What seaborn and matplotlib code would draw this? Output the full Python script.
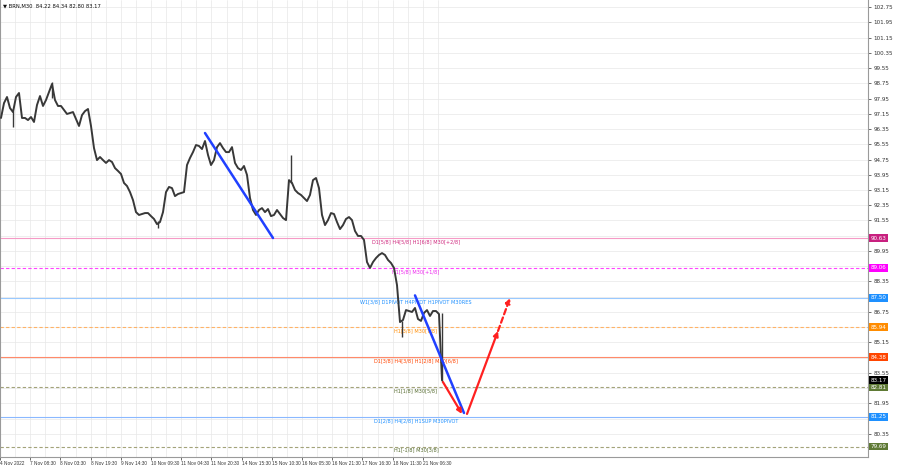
import numpy as np
import matplotlib
matplotlib.use("Agg")
import matplotlib.pyplot as plt
import seaborn as sns

sns.set_theme(style="white")
plt.rcParams["font.family"] = ["DejaVu Sans"]

# ---------------------------------------------------------------------------
# Data (BRN, M30) - one close every 3 bars
# ---------------------------------------------------------------------------
close = [
    96.93, 97.71, 98.03, 97.45, 97.24, 98.03, 98.24, 96.93,
    96.93, 96.82, 96.98, 96.72, 97.61, 98.08, 97.56, 97.87, 98.29,
    98.71, 97.87, 97.56, 97.56, 97.35, 97.14, 97.19, 97.24, 96.87, 96.51, 97.08, 97.29, 97.40, 96.51,
    95.35, 94.72, 94.88, 94.72, 94.57, 94.72, 94.62, 94.30, 94.15, 93.99, 93.52, 93.36, 93.04, 92.62,
    91.99, 91.84, 91.89, 91.94, 91.94, 91.78, 91.63, 91.36, 91.47, 91.99, 93.04, 93.31, 93.25, 92.83,
    92.94, 92.99, 93.04, 94.46, 94.83, 95.14, 95.51, 95.46, 95.30, 95.72, 94.99, 94.46, 94.72, 95.40,
    95.61, 95.35, 95.14, 95.14, 95.40, 94.57, 94.30, 94.20, 94.41, 93.94, 92.73, 92.10, 91.84, 92.10,
    92.20, 91.99, 92.15, 91.78, 91.84, 92.10, 91.89, 91.68, 91.57, 93.67, 93.52, 93.15, 92.99, 92.89,
    92.73, 92.57, 92.89, 93.67, 93.78, 93.25, 91.84, 91.31, 91.57, 91.94, 91.89, 91.47, 91.10, 91.31,
    91.63, 91.73, 91.57, 91.00, 90.74, 90.74, 90.53, 89.37, 89.06, 89.37, 89.58, 89.74, 89.84, 89.74,
    89.48, 89.32, 89.06, 88.16, 86.22, 86.33, 86.85, 86.80, 86.75, 86.96, 86.38, 86.28, 86.70, 86.85,
    86.54, 86.80, 86.80, 86.64, 83.17,
]
bar_step = 3

# notable wicks (bar index, high, low)
wick_bar = [12, 51, 157, 290, 401, 441]
wick_high = [97.30, 98.81, 91.50, 94.99, 86.30, 86.70]
wick_low = [96.45, 98.00, 91.15, 93.50, 85.43, 83.07]

level_price = [90.63, 89.06, 87.50, 85.94, 84.38, 82.81, 81.25, 79.69]
level_text = [
    "D1[5/8] H4[5/8] H1[6/8] M30[+2/8]",
    "H1[5/8] M30[+1/8]",
    "W1[3/8] D1PIVOT H4PIVOT H1PIVOT M30RES",
    "H1[3/8] M30[7/8]",
    "D1[3/8] H4[3/8] H1[2/8] M30[6/8]",
    "H1[1/8] M30[5/8]",
    "D1[2/8] H4[2/8] H1SUP M30PIVOT",
    "H1[-1/8] M30[3/8]",
]
last_price = 83.17
header = "\u25bc BRN,M30  84.22 84.34 82.80 83.17"

x_labels = ["4 Nov 2022", "7 Nov 08:30", "8 Nov 03:30", "8 Nov 19:30", "9 Nov 14:30",
            "10 Nov 09:30", "11 Nov 04:30", "11 Nov 20:30", "14 Nov 15:30", "15 Nov 10:30",
            "16 Nov 05:30", "16 Nov 21:30", "17 Nov 16:30", "18 Nov 11:30", "21 Nov 06:30"]

# analyst drawings: (bar, price) pairs
blue_lines = [((204, 96.14), (272, 90.63)), ((414, 87.62), (463, 81.45))]
red_arrows = [((442, 83.07), (461, 81.40)), ((466, 81.40), (497, 85.75))]
red_dashed = ((497, 85.75), (509, 87.48))

# ---------------------------------------------------------------------------
# styles
# ---------------------------------------------------------------------------
line_col = ["#f59ac6", "#ff44ff", "#99c9ff", "#ffb366", "#ff8a6a", "#a3a37a", "#8ab8ff", "#a3a37a"]
line_ls = ["-", (0, (3, 2)), "-", (0, (3, 2)), "-", (0, (3, 2)), "-", (0, (3, 2))]
text_col = ["#d0287f", "#ee22ee", "#1e90ff", "#ff8c00", "#ff4500", "#556b2f", "#1e90ff", "#556b2f"]
box_col = ["#c8207f", "#ff00ff", "#1e90ff", "#ff8c00", "#ff4500", "#5f7a35", "#1e90ff", "#5f7a35"]

fig = plt.figure(figsize=(9, 4.68), dpi=100)
ax = fig.add_axes([0.0, 11 / 468, 868 / 900, 457 / 468])

bars = np.arange(len(close)) * bar_step
sns.lineplot(x=bars, y=close, ax=ax, color="#383838", lw=1.4, zorder=4)
ax.vlines(wick_bar, wick_low, wick_high, color="#383838", lw=1.0, zorder=4)

for p, t, lc, ls, tc in zip(level_price, level_text, line_col, line_ls, text_col):
    ax.axhline(p, color=lc, ls=ls, lw=0.8, zorder=2)
    ax.text(415, p - 0.06, t, ha="center", va="top", fontsize=3.6, color=tc, zorder=3)

for (x0, y0), (x1, y1) in blue_lines:
    ax.plot([x0, x1], [y0, y1], color="#2040ff", lw=1.8, zorder=5)
for (x0, y0), (x1, y1) in red_arrows:
    ax.annotate("", xy=(x1, y1), xytext=(x0, y0),
                arrowprops=dict(arrowstyle="-|>", color="#ff2020", lw=1.6,
                                mutation_scale=7, shrinkA=0, shrinkB=0), zorder=5)
(x0, y0), (x1, y1) = red_dashed
ax.annotate("", xy=(x1, y1), xytext=(x0, y0),
            arrowprops=dict(arrowstyle="-|>", color="#ff2020", lw=1.6, ls=(0, (2.5, 1.5)),
                            mutation_scale=7, shrinkA=0, shrinkB=0), zorder=5)

# axes / grid
ax.set_xlim(-1, 867)
ax.set_ylim(79.14, 103.12)
y_ticks = np.round(np.arange(80.35, 102.76, 0.8), 2)
ax.set_yticks(y_ticks)
# tick values hidden behind the coloured price boxes stay unlabeled
box_prices = level_price + [last_price]
ax.set_yticklabels(["" if min(abs(v - b) for b in box_prices) < 0.3 else f"{v:.2f}"
                    for v in y_ticks])
ax.yaxis.tick_right()
x_pos = np.arange(len(x_labels)) * 30.2 - 1
ax.set_xticks(x_pos)
ax.set_xticklabels(x_labels, ha="left", family="Liberation Sans")
ax.set_xticks(x_pos + 15.1, minor=True)
ax.tick_params(axis="y", labelsize=4.1, length=2, width=0.5, pad=2, colors="#333333", right=True)
ax.tick_params(axis="x", labelsize=3.4, length=2, width=0.5, pad=1, colors="#333333", bottom=True)
ax.grid(True, which="both", axis="x", color="#e8e8e8", lw=0.5, zorder=0)
ax.grid(True, which="major", axis="y", color="#e8e8e8", lw=0.5, zorder=0)
for s in ax.spines.values():
    s.set_color("#9a9a9a")
    s.set_linewidth(0.8)
ax.spines["top"].set_visible(False)

# price boxes on the right scale
ytr = ax.get_yaxis_transform()
for p, bc in zip(level_price, box_col):
    ax.text(1.003, p, f"{p:.2f}", transform=ytr, ha="left", va="center", fontsize=4.1,
            color="white", clip_on=False, zorder=6,
            bbox=dict(boxstyle="square,pad=0.25", fc=bc, ec="none"))
ax.text(1.003, last_price, f"{last_price:.2f}", transform=ytr, ha="left", va="center",
        fontsize=4.1, color="white", clip_on=False, zorder=6,
        bbox=dict(boxstyle="square,pad=0.25", fc="#000000", ec="none"))

ax.text(0.004, 0.993, header, transform=ax.transAxes, ha="left", va="top", fontsize=3.8,
        color="#111111")

fig.savefig("out.png", dpi=100)
